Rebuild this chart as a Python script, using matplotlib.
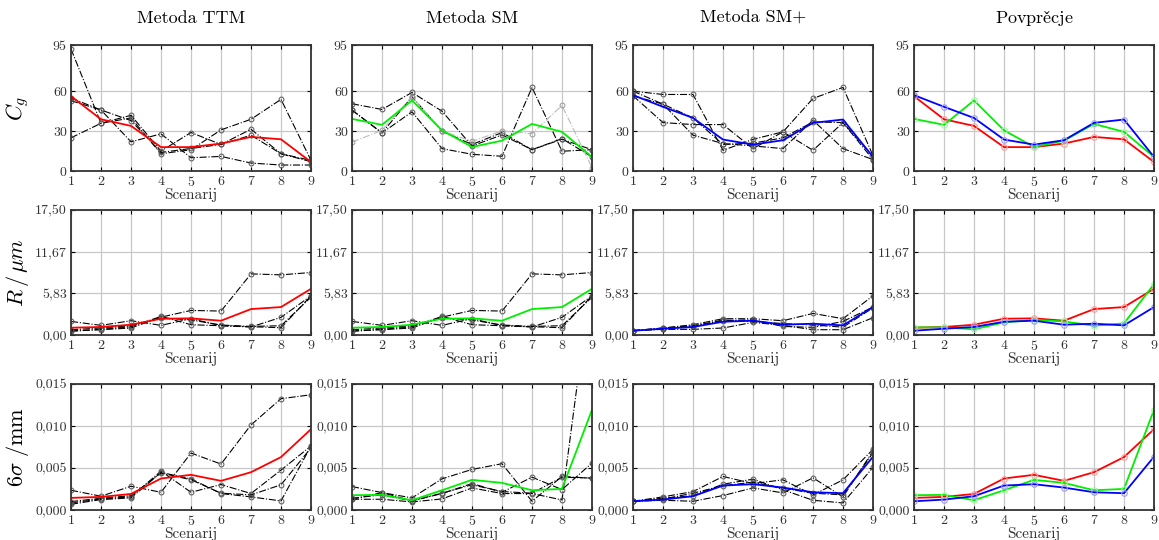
import numpy as np
import matplotlib
matplotlib.use("Agg")
import matplotlib.pyplot as plt

plt.rcParams['font.family'] = ['cmr10', 'DejaVu Serif']
plt.rcParams['mathtext.fontset'] = 'cm'
plt.rcParams['axes.formatter.use_mathtext'] = True

scen = [1, 2, 3, 4, 5, 6, 7, 8, 9]

# --- C_g ---
cg_ttm = [
    [92, 36, 40, 13, 16, 31, 39, 54, 8],
    [53, 46, 22, 28, 10, 11, 6, 4.5, 4.5],
    [25, 36, 42, 15, 29, 20, 31.5, 13, 8],
    [55, 46, 38, 14, 17, 20, 27, 13, 7],
]
cg_ttm_mean = [56.4, 39, 34, 18, 18, 20.7, 25.7, 23.9, 6.8]

cg_sm = [
    [50.7, 46.4, 59.2, 45.1, 18.9, 27.2, 16.1, 24.4, 10.6],
    [45.9, 28.7, 44.6, 16.9, 12.6, 11.1, 63, 14.9, 16.1],
    [45.9, 28.7, 56, 30, 20, 29, 16, 24, 16],
]
cg_sm_extra = [21.7, 30.7, 56, 30.2, 22.4, 30.2, 28.2, 49.4, 2.5]
cg_sm_mean = [39.3, 34.8, 53.2, 30.7, 18.1, 22.9, 35.5, 29.5, 10.6]

cg_smp = [
    [60.2, 57.7, 57.7, 15.6, 23.9, 29.5, 54.7, 63, 11.6],
    [56.7, 36.5, 35, 35, 16.9, 29.5, 15.6, 36.5, 8.6],
    [56.7, 50.4, 27, 20.7, 18.9, 16.9, 38.3, 16.9, 8.6],
    [60.2, 50.4, 40, 20, 21, 25, 37, 36.5, 11],
]
cg_smp_mean = [57.2, 48.4, 40, 23.7, 19.9, 23.2, 36.3, 38.8, 10.6]

# --- R / um ---
r_ttm = [
    [0.6, 0.74, 0.98, 2.5, 3.44, 3.35, 8.56, 8.42, 8.75],
    [1.9, 1.35, 2.0, 1.35, 2.28, 1.3, 1.12, 2.47, 5.49],
    [0.51, 0.79, 1.16, 2.6, 1.44, 1.3, 1.16, 1.02, 5.49],
    [0.74, 0.98, 1.3, 2.4, 2.1, 1.4, 1.2, 1.3, 5.3],
]
r_ttm_mean = [1.02, 1.12, 1.44, 2.28, 2.33, 2.0, 3.63, 3.91, 6.47]
r_sm = r_ttm
r_sm_mean = r_ttm_mean
r_sm_avg = [1.07, 1.07, 0.79, 1.77, 2.1, 1.9, 1.3, 1.63, 7.12]

r_smp = [
    [0.6, 0.98, 1.44, 2.28, 2.28, 2.0, 3.02, 2.28, 5.49],
    [0.6, 0.79, 0.79, 0.98, 1.77, 1.35, 0.74, 0.74, 2.42],
    [0.6, 0.98, 1.3, 2.0, 2.14, 1.2, 1.07, 1.9, 3.91],
    [0.6, 0.88, 1.2, 2.1, 1.9, 1.6, 1.4, 1.1, 3.8],
]
r_smp_mean = [0.6, 0.88, 1.12, 1.86, 2.0, 1.44, 1.58, 1.35, 3.91]

# --- 6 sigma / mm ---
s_ttm = [
    [.00235, .00164, .00283, .00211, .00678, .00547, .01013, .01325, .01372],
    [.00084, .00132, .00156, .00463, .00211, .00303, .00196, .00475, .00762],
    [.00068, .00124, .00144, .00447, .00371, .00196, .00156, .00108, .00762],
    [.00100, .00140, .00170, .00440, .00360, .00200, .00180, .00300, .00740],
]
s_ttm_mean = [.00144, .00156, .00191, .00375, .00419, .00347, .0045, .0063, .00962]

s_sm = [
    [.00279, .00207, .00144, .00371, .00483, .00551, .00104, .00399, .00379],
    [.00128, .00207, .00108, .00196, .00315, .00211, .00391, .00243, .00559],
    [.00128, .00128, .00096, .00132, .00263, .00196, .00196, .0012, .0283],
    [.00140, .00180, .00110, .00200, .00300, .00220, .00200, .00390, .00380],
]
s_sm_mean = [.00176, .0018, .00116, .00235, .00359, .00323, .00235, .00251, .01193]

s_smp = [
    [.00104, .00156, .00219, .00399, .00315, .00359, .0018, .00359, .00722],
    [.00104, .00116, .00104, .00172, .00263, .00203, .00383, .00156, .00702],
    [.00104, .00140, .00170, .00307, .00367, .00240, .00116, .00084, .00507],
    [.00104, .00130, .00200, .00290, .00330, .00260, .00200, .00180, .00680],
]
s_smp_mean = [.00104, .00124, .00164, .00291, .00307, .00267, .00211, .0020, .00634]

titles = ['Metoda TTM', 'Metoda SM', 'Metoda SM+', r'Povpre$\mathrm{\check{c}}$je']
ylabels = [r'$C_g$', r'$R\,/\,\mu m$', r'$6\sigma\ /\mathrm{mm}$']
yticks = [[0, 30, 60, 95], [0, 5.83, 11.67, 17.5], [0, 0.005, 0.010, 0.015]]
yticklabels = [['0', '30', '60', '95'],
               ['0,00', '5,83', '11,67', '17,50'],
               ['0,000', '0,005', '0,010', '0,015']]
ylims = [(0, 95), (0, 17.5), (0, 0.015)]

rows = [
    [(cg_ttm, cg_ttm_mean), (cg_sm, cg_sm_mean), (cg_smp, cg_smp_mean)],
    [(r_ttm, r_ttm_mean), (r_sm, r_sm_mean), (r_smp, r_smp_mean)],
    [(s_ttm, s_ttm_mean), (s_sm, s_sm_mean), (s_smp, s_smp_mean)],
]
averages = [
    (cg_ttm_mean, cg_sm_mean, cg_smp_mean),
    (r_ttm_mean, r_sm_avg, r_smp_mean),
    (s_ttm_mean, s_sm_mean, s_smp_mean),
]
colors = ['#ff0000', '#00ee00', '#0000ff']
light = ['#ff9999', '#99ff99', '#9999ff']

fig = plt.figure(figsize=(11.59, 5.4), dpi=100)
W, H = 1159, 540
lefts = [71, 352, 633, 914]
tops = [45, 210, 384]
bottoms = [171, 335, 510]

for r in range(3):
    for c in range(4):
        ax = fig.add_axes([lefts[c] / W, 1 - bottoms[r] / H,
                           240 / W, (bottoms[r] - tops[r]) / H])
        if c < 3:
            lines, mean = rows[r][c]
            for ys in lines:
                ax.plot(scen, ys, '-.', color='black', lw=0.8,
                        marker='o', ms=3.5, mfc='none', mec='#555555', mew=0.7)
            if r == 0 and c == 1:
                ax.plot(scen, cg_sm_extra, '-.', color='#bbbbbb', lw=0.8,
                        marker='o', ms=3.5, mfc='none', mec='#999999', mew=0.7)
            ax.plot(scen, mean, '-', color=colors[c], lw=1.3)
        else:
            for k in range(3):
                ax.plot(scen, averages[r][k], '-', color=colors[k], lw=1.3,
                        marker='o', ms=4, mfc='none', mec=light[k], mew=0.8)
        ax.set_xlim(1, 9)
        ax.set_ylim(*ylims[r])
        ax.set_xticks(scen)
        ax.set_yticks(yticks[r])
        ax.set_yticklabels(yticklabels[r])
        ax.grid(True, color='#c8c8c8', lw=0.9)
        ax.set_axisbelow(True)
        ax.tick_params(direction='in', top=True, right=True, length=3,
                       labelsize=10, labelcolor='#333333', pad=3, width=0.8)
        for s in ax.spines.values():
            s.set_linewidth(1.3)
            s.set_color('#333333')
        ax.set_xlabel('Scenarij', fontsize=11, labelpad=-1, color='#333333')
        if r == 0:
            ax.set_title(titles[c], fontsize=13, pad=16)
        if c == 0:
            ax.set_ylabel(ylabels[r], fontsize=16)
            ax.yaxis.set_label_coords(-0.165, 0.5)

fig.savefig('out.png', dpi=100)
